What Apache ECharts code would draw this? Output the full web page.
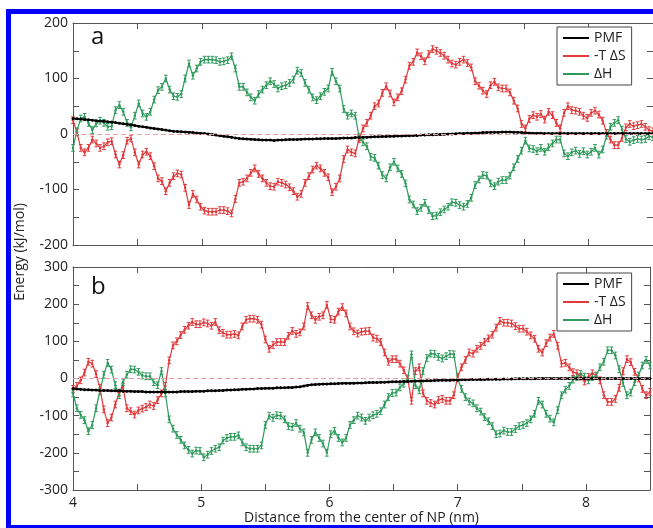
<!DOCTYPE html>
<html>
<head>
<meta charset="utf-8">
<script src="https://cdn.jsdelivr.net/npm/echarts@6.0.0/dist/echarts.min.js"></script>
<style>
html, body { margin: 0; padding: 0; background: #fff; }
#chart { width: 653px; height: 528px; }
</style>
</head>
<body>
<div id="chart"></div>
<script>
// distance grid (nm), one sample every 0.03 nm from 4.00 to 8.50
var dist = [];
for (var i = 0; i <= 150; i++) dist.push(+(4 + 0.03 * i).toFixed(2));

// panel a
var pmfA = [28, 27.5, 27, 26, 25.5, 25, 24, 23.5, 23, 22, 21.5,
	20.5, 19.5, 18.5, 17.5, 16.5, 15.5, 14, 13, 12, 11,
	10, 9, 8, 7, 6, 5, 4.5, 4, 3.5, 3,
	2.5, 2, 1.5, 1, 0, -1, -2, -3, -4, -5,
	-6, -7, -8, -8.5, -9, -9.5, -10, -10.5, -11, -11,
	-11, -11.5, -11, -11, -10.5, -10, -10, -10, -9.5, -9,
	-9, -9, -8.5, -8.5, -8, -8, -8, -8, -7.5, -7,
	-7, -7, -6.5, -6.5, -6, -6, -5.5, -5, -5, -4.5,
	-4.5, -4, -4, -3.5, -3.5, -3, -3, -2.5, -2.5, -2,
	-2, -1.5, -1.5, -1, -1, -0.5, 0, 0, 0.5, 1,
	1, 1.5, 1.5, 2, 2, 2.5, 2.5, 3, 3, 3,
	3.5, 3.5, 3.5, 3, 3, 2.5, 2, 2, 1.5, 1.5,
	1.5, 1, 1, 1, 1, 1, 1, 1, 1, 1,
	1, 1, 1, 1, 1, 1, 1, 1, 1, 1,
	1, 1, 1, 1, 1, 1, 1, 1, 1, 1];
var tdsA = [25, 3, -25, -33, -25, -10, -17, -25, -22, -15,
	-13, -37, -55, -38, -12, -8, -33, -55, -37, -32,
	-40, -58, -80, -85, -103, -88, -76, -71, -73, -97,
	-128, -108, -118, -131, -138, -140, -140, -140, -137, -137,
	-139, -143, -117, -88, -86, -80, -70, -62, -72, -80,
	-88, -94, -95, -86, -88, -91, -96, -103, -113, -108,
	-88, -76, -64, -57, -62, -70, -78, -105, -95, -80,
	-45, -28, -33, -35, -9, 10, 20, 33, 50, 55,
	74, 86, 73, 57, 66, 77, 98, 123, 130, 147,
	140, 131, 144, 153, 150, 146, 141, 134, 127, 125,
	130, 134, 128, 120, 95, 87, 78, 72, 88, 94,
	84, 82, 82, 75, 60, 46, 18, 10, 27, 34,
	31, 36, 26, 40, 34, 20, 10, 38, 50, 43,
	42, 40, 33, 29, 38, 42, 35, 24, 2, -10,
	-20, -20, -7, 12, 18, 14, 16, 18, 13, 7, 5];
var dhA = [-25, 5, 28, 31, 20, 7, 19, 24, 20, 13,
	14, 43, 52, 40, 20, 12, 33, 55, 37, 31,
	40, 62, 79, 85, 100, 80, 68, 67, 72, 100,
	127, 105, 118, 130, 134, 134, 134, 133, 130, 131,
	133, 140, 118, 85, 85, 75, 66, 60, 72, 80,
	88, 95, 90, 82, 86, 88, 92, 98, 114, 110,
	92, 80, 66, 61, 68, 76, 82, 112, 95, 82,
	45, 33, 37, 33, -6, -15, -22, -41, -43, -57,
	-74, -80, -60, -50, -62, -72, -89, -118, -127, -139,
	-133, -124, -137, -148, -147, -141, -136, -131, -123, -124,
	-128, -131, -126, -115, -92, -82, -74, -75, -89, -94,
	-86, -83, -83, -75, -60, -45, -30, -12, -26, -27,
	-31, -25, -32, -24, -17, -10, -10, -35, -40, -33,
	-30, -36, -31, -37, -32, -25, -37, -28, -3, 13,
	20, 25, 8, -9, -14, -11, -9, -10, -9, -4, -6];

// panel b
var pmfB = [-27, -28, -29, -30, -30, -31, -31, -32, -32, -32, -33,
	-33, -33, -34, -34, -34, -35, -35, -35, -36, -36,
	-36, -36, -36, -36, -36, -36, -36, -35, -35, -35,
	-35, -34, -34, -34, -33, -33, -33, -32, -32, -31,
	-31, -30, -30, -29, -29, -28, -28, -27, -27, -26,
	-26, -26, -25, -25, -25, -24, -24, -23, -22, -20,
	-18, -17, -16, -15.5, -15, -14.5, -14, -14, -13.5, -13,
	-13, -12.5, -12.5, -12, -12, -11.5, -11, -11, -10.5, -10,
	-10, -9.5, -9, -9, -8.5, -8, -8, -7.5, -7, -7,
	-6.5, -6, -6, -5.5, -5, -5, -4.5, -4.5, -4, -4,
	-3.5, -3.5, -3, -3, -3, -2.5, -2.5, -2, -2, -2,
	-2, -1.5, -1.5, -1.5, -1, -1, -1, -1, -0.5, -0.5,
	0, 0, 0, 0, 0, 0, 0, 0, 0, 0,
	0, 0, 0, 0, 0, 0, 0, 0, 0, 0,
	0, 0, 0, 0, 0, 0, 0, 0, 0, 0];
var tdsB = [-28, -20, -5, 16, 45, 40, 12, -25, -83, -120,
	-105, -70, -38, -23, -80, -88, -97, -86, -81, -77,
	-70, -74, -58, -40, -20, 49, 89, 100, 117, 131,
	142, 152, 146, 146, 151, 148, 142, 152, 130, 123,
	118, 118, 120, 116, 140, 158, 161, 161, 158, 145,
	105, 80, 90, 98, 98, 98, 115, 128, 120, 124,
	140, 195, 170, 158, 166, 170, 198, 160, 158, 180,
	192, 175, 140, 127, 121, 126, 127, 128, 110, 107,
	98, 70, 45, 52, 52, 40, 22, 0, -60, 20,
	30, -40, -60, -66, -70, -58, -55, -60, -60, -45,
	5, 30, 50, 70, 67, 80, 88, 98, 108, 118,
	137, 155, 150, 150, 148, 141, 134, 134, 126, 116,
	107, 80, 70, 95, 110, 120, 88, 40, 42, 30,
	17, 14, 5, -8, 4, 14, 8, -5, -45, -63,
	-63, -55, -25, 20, 52, 44, 18, 0, -28, -45, -36];
var dhB = [-40, -80, -98, -112, -142, -125, -80, -35, 10, 42,
	24, -18, -45, -10, 10, 25, 24, 18, 8, 6,
	6, -10, -18, 20, -40, -110, -135, -152, -165, -180,
	-192, -202, -194, -195, -212, -205, -195, -189, -185, -167,
	-160, -157, -157, -153, -172, -185, -189, -189, -189, -180,
	-125, -100, -106, -99, -100, -110, -128, -130, -120, -135,
	-145, -200, -165, -145, -160, -175, -200, -150, -141, -160,
	-172, -160, -125, -112, -100, -105, -114, -105, -99, -95,
	-88, -70, -50, -39, -38, -24, -14, -2, 65, -18,
	-32, 20, 55, 67, 66, 58, 54, 60, 66, 65,
	0, -28, -50, -62, -67, -80, -89, -104, -115, -128,
	-150, -148, -140, -144, -144, -136, -128, -125, -120, -110,
	-95, -60, -70, -95, -108, -118, -85, -45, -30, -20,
	-3, 4, 12, 5, -5, 4, 7, 30, 45, 76,
	76, 62, 25, -12, -45, -38, -10, 8, 35, 50, 35];

// error bar half-heights (kJ/mol)
var errA = 6;
var errB = 9;

var legendNames = ['PMF', '-T ΔS', 'ΔH'];
var RED = '#e0393b', GREEN = '#2f9a5c', AXIS = '#555';
var FONT = 'Open Sans';

function pairs(arr) {
	return arr.map(function (v, i) { return [dist[i], v]; });
}

function errRender(err) {
	return function (params, api) {
		var x = api.value(0), y = api.value(1);
		var t = api.coord([x, y + err]);
		var b = api.coord([x, y - err]);
		var c = api.visual('color');
		var st = { stroke: c, lineWidth: 1 };
		return {
			type: 'group',
			children: [
				{ type: 'line', shape: { x1: t[0], y1: t[1], x2: b[0], y2: b[1] }, style: st },
				{ type: 'line', shape: { x1: t[0] - 1.8, y1: t[1], x2: t[0] + 1.8, y2: t[1] }, style: st },
				{ type: 'line', shape: { x1: b[0] - 1.8, y1: b[1], x2: b[0] + 1.8, y2: b[1] }, style: st }
			]
		};
	};
}

function xAx(grid, pos, showLabel) {
	return {
		type: 'value', gridIndex: grid, position: pos,
		min: 4, max: 8.5, interval: 0.5,
		axisLine: { onZero: false, lineStyle: { color: AXIS, width: 1 } },
		axisTick: { inside: true, length: 6, lineStyle: { color: AXIS } },
		axisLabel: {
			show: showLabel, margin: 6, color: '#222', fontFamily: FONT, fontSize: 14,
			formatter: function (v) { return v % 1 === 0 ? String(v) : ''; }
		},
		splitLine: { show: false }
	};
}

function yAx(grid, pos, lim, showLabel) {
	return {
		type: 'value', gridIndex: grid, position: pos,
		min: -lim, max: lim, interval: 50,
		axisLine: { onZero: false, lineStyle: { color: AXIS, width: 1 } },
		axisTick: { inside: true, length: 6, lineStyle: { color: AXIS } },
		axisLabel: {
			show: showLabel, margin: 5, color: '#222', fontFamily: FONT, fontSize: 14,
			formatter: function (v) { return v % 100 === 0 ? String(v) : ''; }
		},
		splitLine: { show: false }
	};
}

function lineSeries(name, data, color, p, width, size) {
	return {
		name: name, type: 'line', xAxisIndex: 2 * p, yAxisIndex: 2 * p,
		data: pairs(data),
		symbol: 'circle', symbolSize: size,
		itemStyle: { color: color },
		lineStyle: { color: color, width: width },
		emphasis: { disabled: true }
	};
}

function errSeries(data, color, p, err) {
	return {
		type: 'custom', xAxisIndex: 2 * p, yAxisIndex: 2 * p,
		data: pairs(data),
		itemStyle: { color: color },
		renderItem: errRender(err),
		silent: true
	};
}

function zeroLine(series) {
	series.markLine = {
		silent: true, symbol: 'none', animation: false,
		label: { show: false },
		lineStyle: { color: '#e9a2a2', type: [5, 3], width: 1 },
		data: [{ yAxis: 0 }]
	};
	return series;
}

function legendBox(top) {
	return {
		data: legendNames, orient: 'vertical', left: 557, top: top,
		padding: [3, 6, 3, 6], itemGap: 2, itemWidth: 26, itemHeight: 2,
		icon: 'rect', borderColor: '#444', borderWidth: 1, backgroundColor: '#fff',
		selectedMode: false,
		textStyle: { fontFamily: FONT, fontSize: 14, color: '#222', lineHeight: 16 }
	};
}

var mycharts = echarts.init(document.getElementById('chart'));
var option = {
	animation: false,
	backgroundColor: '#fff',
	grid: [
		{ left: 73, top: 23, width: 582, height: 222 },
		{ left: 73, top: 267, width: 582, height: 223 }
	],
	xAxis: [
		xAx(0, 'bottom', false), xAx(0, 'top', false),
		Object.assign(xAx(1, 'bottom', true), {
			name: 'Distance from the center of NP (nm)', nameLocation: 'middle', nameGap: 20,
			nameTextStyle: { fontFamily: FONT, fontSize: 14, color: '#222' }
		}),
		xAx(1, 'top', false)
	],
	yAxis: [
		yAx(0, 'left', 200, true), yAx(0, 'right', 200, false),
		yAx(1, 'left', 300, true), yAx(1, 'right', 300, false)
	],
	legend: [legendBox(27), legendBox(273)],
	graphic: [
		{
			type: 'rect', silent: true, z: 100,
			shape: { x: 8.5, y: 11.5, width: 700, height: 516 },
			style: { fill: null, stroke: '#0000ff', lineWidth: 5 }
		},
		{
			type: 'text', x: 20, y: 252, rotation: Math.PI / 2, silent: true,
			style: { text: 'Energy (kJ/mol)', fontFamily: FONT, fontSize: 14, fill: '#222', align: 'center', verticalAlign: 'middle' }
		},
		{
			type: 'text', x: 91, y: 37, silent: true,
			style: { text: 'a', fontFamily: FONT, fontSize: 24, fill: '#111', align: 'left', verticalAlign: 'middle' }
		},
		{
			type: 'text', x: 91, y: 287, silent: true,
			style: { text: 'b', fontFamily: FONT, fontSize: 24, fill: '#111', align: 'left', verticalAlign: 'middle' }
		}
	],
	series: [
		zeroLine(lineSeries('-T ΔS', tdsA, RED, 0, 1.2, 2.5)),
		errSeries(tdsA, RED, 0, errA),
		lineSeries('ΔH', dhA, GREEN, 0, 1.2, 2.5),
		errSeries(dhA, GREEN, 0, errA),
		lineSeries('PMF', pmfA, '#000', 0, 2, 3),

		zeroLine(lineSeries('-T ΔS', tdsB, RED, 1, 1.2, 2.5)),
		errSeries(tdsB, RED, 1, errB),
		lineSeries('ΔH', dhB, GREEN, 1, 1.2, 2.5),
		errSeries(dhB, GREEN, 1, errB),
		lineSeries('PMF', pmfB, '#000', 1, 2, 3)
	]
};
mycharts.setOption(option);
mycharts.resize();
</script>
</body>
</html>
